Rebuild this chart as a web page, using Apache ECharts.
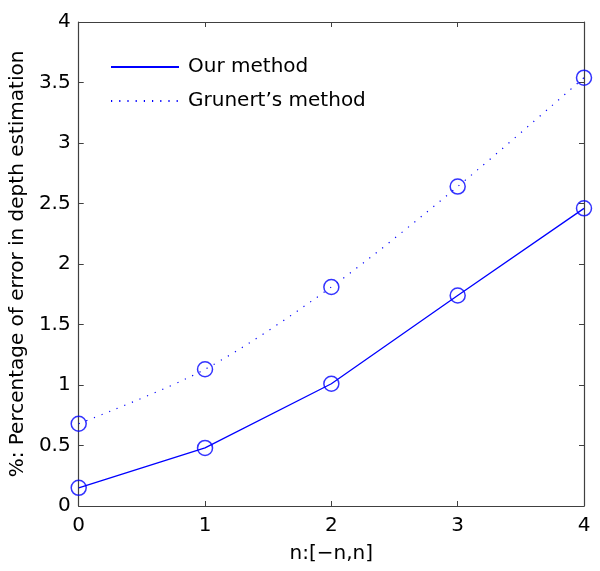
<!DOCTYPE html>
<html>
<head>
<meta charset="utf-8">
<script src="https://cdn.jsdelivr.net/npm/echarts@6/dist/echarts.min.js"></script>
<style>
  html, body { margin: 0; padding: 0; background: #fff; }
  #chart { width: 600px; height: 571px; }
</style>
</head>
<body>
<div id="chart"></div>
<script>
const nValues = [0, 1, 2, 3, 4]
const ourMethod = [0.15, 0.48, 1.01, 1.74, 2.46]
const grunertMethod = [0.68, 1.13, 1.81, 2.64, 3.54]

const blue = '#0000ff'
const font = 'DejaVu Sans'
const pairs = (ys) => nValues.map((x, i) => [x, ys[i]])

const chart = echarts.init(document.getElementById('chart'))

const axisCommon = {
  axisLine: { show: true, onZero: false, lineStyle: { color: '#404040', width: 1.2 } },
  axisTick: { show: true, inside: true, length: 5, lineStyle: { color: '#404040' } },
  splitLine: { show: false }
}

const option = {
  animation: false,
  backgroundColor: '#fff',
  grid: { left: 78, right: 16, top: 22, bottom: 65 },
  legend: {
    orient: 'vertical',
    left: 110,
    top: 57,
    padding: 0,
    itemWidth: 68,
    itemHeight: 14,
    itemGap: 14,
    itemStyle: { opacity: 0 },
    data: ['Our method', "Grunert\u2019s method"],
    textStyle: { fontFamily: font, fontSize: 20, color: '#000', padding: [0, 0, 0, 4] }
  },
  xAxis: [
    Object.assign({
      type: 'value', min: 0, max: 4, interval: 1,
      name: 'n:[\u2212n,n]', nameLocation: 'middle', nameGap: 38,
      nameTextStyle: { fontFamily: font, fontSize: 20, color: '#000' },
      axisLabel: { fontFamily: font, fontSize: 20, color: '#000', margin: 10 }
    }, axisCommon),
    Object.assign({
      type: 'value', min: 0, max: 4, interval: 1, position: 'top',
      axisLabel: { show: false }
    }, axisCommon)
  ],
  yAxis: [
    Object.assign({
      type: 'value', min: 0, max: 4, interval: 0.5,
      name: '%: Percentage of error in depth estimation', nameLocation: 'middle', nameGap: 48,
      nameTextStyle: { fontFamily: font, fontSize: 20, color: '#000' },
      axisLabel: { fontFamily: font, fontSize: 20, color: '#000', margin: 8 }
    }, axisCommon),
    Object.assign({
      type: 'value', min: 0, max: 4, interval: 0.5, position: 'right',
      axisLabel: { show: false }
    }, axisCommon)
  ],
  series: [
    {
      name: 'Our method',
      type: 'line',
      data: pairs(ourMethod),
      symbol: 'none',
      lineStyle: { color: blue, width: 1.3 },
      itemStyle: { color: blue }
    },
    {
      name: "Grunert\u2019s method",
      type: 'line',
      data: pairs(grunertMethod),
      symbol: 'none',
      smooth: 0.3,
      lineStyle: { color: blue, width: 1.2, type: [1.2, 7] },
      itemStyle: { color: blue }
    },
    {
      type: 'scatter',
      data: pairs(ourMethod).concat(pairs(grunertMethod)),
      symbol: 'circle',
      symbolSize: 15,
      itemStyle: { color: 'rgba(0,0,0,0)', borderColor: blue, borderWidth: 1.5 },
      z: 5
    }
  ]
}

chart.setOption(option)
</script>
</body>
</html>
